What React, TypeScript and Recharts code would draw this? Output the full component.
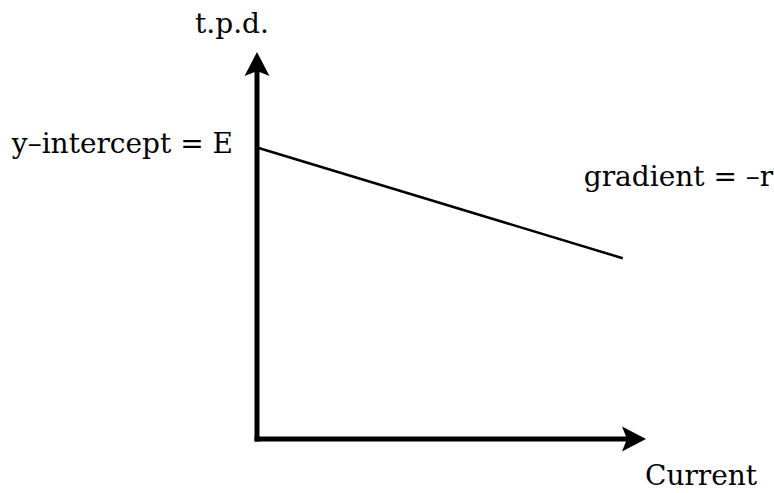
import { LineChart, Line, XAxis, YAxis, ReferenceDot, Label } from "recharts";

// line: t.p.d. against current
const currents = [0, 24];
const tpdValues = [10, 6.2];
const xDomain = [0, 25];
const yDomain = [0, 13];

const xTitle = "Current";
const yTitle = "t.p.d.";
const interceptText = "y–intercept = E";
const gradientText = "gradient = –r";

const data = currents.map((c, i) => ({ current: c, tpd: tpdValues[i] }));

const font = { fontFamily: "'DejaVu Serif', serif", fontSize: 28, fill: "#000" };

const axisStroke = {
  stroke: "#000",
  strokeWidth: 5,
  strokeLinecap: "square" as const,
};

export default function App() {
  return (
    <div style={{ position: "absolute", left: 0, top: 0, width: 774, height: 493, background: "#fff" }}>
      <svg width={0} height={0} style={{ position: "absolute" }}>
        <defs>
          <marker
            id="arrowHead"
            markerUnits="userSpaceOnUse"
            markerWidth={40}
            markerHeight={40}
            refX={0}
            refY={0}
            orient="auto-start-reverse"
            overflow="visible"
          >
            <path d="M8,0 L-16,-12.5 L-11,0 L-16,12.5 Z" fill="#000" />
          </marker>
        </defs>
      </svg>
      <LineChart
        width={774}
        height={493}
        data={data}
        margin={{ top: 60, left: 256, right: 136, bottom: 53 }}
      >
        <XAxis
          dataKey="current"
          type="number"
          domain={xDomain}
          height={1}
          tick={false}
          tickLine={false}
          axisLine={{ ...axisStroke, markerEnd: "url(#arrowHead)" }}
        >
          <Label
            content={({ viewBox }: any) => (
              <text x={viewBox.x + viewBox.width + 7} y={viewBox.y + 46} {...font}>
                {xTitle}
              </text>
            )}
          />
        </XAxis>
        <YAxis
          type="number"
          domain={yDomain}
          width={1}
          tick={false}
          tickLine={false}
          axisLine={{ ...axisStroke, markerStart: "url(#arrowHead)" }}
        >
          <Label
            content={({ viewBox }: any) => (
              <text x={viewBox.x - 24} y={viewBox.y - 27} textAnchor="middle" {...font}>
                {yTitle}
              </text>
            )}
          />
        </YAxis>
        <Line
          dataKey="tpd"
          type="linear"
          stroke="#000"
          strokeWidth={2.5}
          dot={false}
          activeDot={false}
          isAnimationActive={false}
        />
        <ReferenceDot x={currents[0]} y={tpdValues[0]} r={0} fill="none" stroke="none">
          <Label
            content={({ viewBox }: any) => (
              <text x={viewBox.x + viewBox.width / 2 - 24} y={viewBox.y + viewBox.height / 2 + 6} textAnchor="end" {...font}>
                {interceptText}
              </text>
            )}
          />
        </ReferenceDot>
        <ReferenceDot x={currents[1]} y={tpdValues[1]} r={0} fill="none" stroke="none">
          <Label
            content={({ viewBox }: any) => (
              <text x={viewBox.x + viewBox.width / 2 - 39} y={viewBox.y + viewBox.height / 2 - 72} {...font}>
                {gradientText}
              </text>
            )}
          />
        </ReferenceDot>
      </LineChart>
    </div>
  );
}
